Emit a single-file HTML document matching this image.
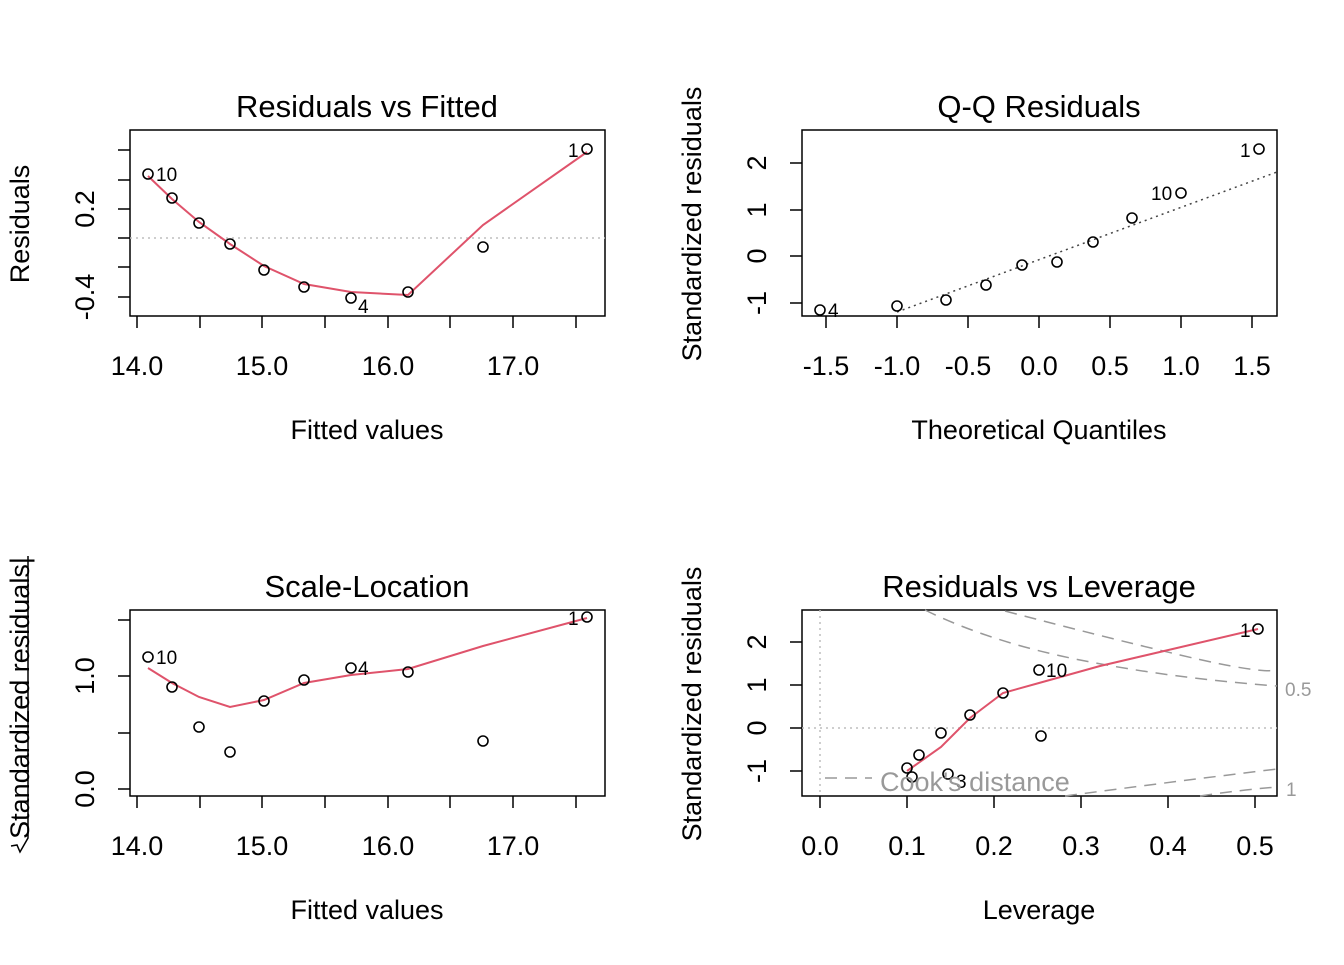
<!DOCTYPE html>
<html><head><meta charset="utf-8"><style>
html,body{margin:0;padding:0;background:#fff}
svg text{font-family:"Liberation Sans",Arial,sans-serif}
</style></head><body>
<svg width="1344" height="960" viewBox="0 0 1344 960" xmlns="http://www.w3.org/2000/svg">
<g fill="none" stroke="#000" stroke-width="1.5">
<rect x="130" y="130" width="475" height="186"/>
<path d="M137 316v12M200 316v12M262 316v12M325 316v12M388 316v12M450 316v12M513 316v12M576 316v12"/>
<path d="M118 150h12M118 180h12M118 209h12M118 238h12M118 267h12M118 297h12"/>
<rect x="802" y="130" width="475" height="186"/>
<path d="M826 316v12M897 316v12M968 316v12M1039 316v12M1110 316v12M1181 316v12M1252 316v12"/>
<path d="M790 163h12M790 210h12M790 256h12M790 303h12"/>
<rect x="130" y="610" width="475" height="186"/>
<path d="M137 796v12M200 796v12M262 796v12M325 796v12M388 796v12M450 796v12M513 796v12M576 796v12"/>
<path d="M118 620h12M118 676h12M118 733h12M118 789h12"/>
<rect x="802" y="610" width="475" height="186"/>
<path d="M820 796v12M907 796v12M994 796v12M1081 796v12M1168 796v12M1255 796v12"/>
<path d="M790 642h12M790 685h12M790 728h12M790 771h12"/>
</g>
<g stroke="#bebebe" stroke-width="1.5" stroke-dasharray="2,4" fill="none">
<path d="M130 238H605"/>
<path d="M802 728H1277M820 610V796"/>
</g>
<path d="M897 312L1277 172" stroke="#444" stroke-width="1.5" stroke-dasharray="2,4" fill="none"/>
<g stroke="#999" stroke-width="1.5" stroke-dasharray="12,8" fill="none">
<path d="M925 610 Q990 642 1080 660 T1277 686"/>
<path d="M1005 611 Q1100 636 1180 655 T1277 670"/>
<path d="M1065 796 Q1170 782 1277 769"/>
<path d="M1200 796 Q1240 790 1277 787"/>
<path d="M825 778H872"/>
</g>
<g stroke="#df536b" stroke-width="2" fill="none">
<polyline points="148,176 172,199 199,222 230,244 264,266 304,284 351,292 408,295 483,225 587,152"/>
<polyline points="148,668 172,683 199,697 230,707 264,700 304,683 351,675 408,669 483,646 587,618"/>
<polyline points="907,771 941,747 970,718 1003,693 1039,683 1100,666 1258,629"/>
</g>
<g fill="none" stroke="#000" stroke-width="1.6">
<circle cx="148" cy="174" r="5"/><circle cx="172" cy="198" r="5"/><circle cx="199" cy="223" r="5"/><circle cx="230" cy="244" r="5"/><circle cx="264" cy="270" r="5"/><circle cx="304" cy="287" r="5"/><circle cx="351" cy="298" r="5"/><circle cx="408" cy="292" r="5"/><circle cx="483" cy="247" r="5"/><circle cx="587" cy="149" r="5"/>
<circle cx="820" cy="310" r="5"/><circle cx="897" cy="306" r="5"/><circle cx="946" cy="300" r="5"/><circle cx="986" cy="285" r="5"/><circle cx="1022" cy="265" r="5"/><circle cx="1057" cy="262" r="5"/><circle cx="1093" cy="242" r="5"/><circle cx="1132" cy="218" r="5"/><circle cx="1181" cy="193" r="5"/><circle cx="1259" cy="149" r="5"/>
<circle cx="148" cy="657" r="5"/><circle cx="172" cy="687" r="5"/><circle cx="199" cy="727" r="5"/><circle cx="230" cy="752" r="5"/><circle cx="264" cy="701" r="5"/><circle cx="304" cy="680" r="5"/><circle cx="351" cy="668" r="5"/><circle cx="408" cy="672" r="5"/><circle cx="483" cy="741" r="5"/><circle cx="587" cy="617" r="5"/>
<circle cx="907" cy="768" r="5"/><circle cx="912" cy="777" r="5"/><circle cx="919" cy="755" r="5"/><circle cx="941" cy="733" r="5"/><circle cx="948" cy="774" r="5"/><circle cx="970" cy="715" r="5"/><circle cx="1003" cy="693" r="5"/><circle cx="1039" cy="670" r="5"/><circle cx="1041" cy="736" r="5"/><circle cx="1258" cy="629" r="5"/>
</g>
<g font-size="19" fill="#000">
<text x="156" y="181">10</text><text x="358" y="313">4</text><text x="568" y="157">1</text>
<text x="828" y="317">4</text><text x="1151" y="200">10</text><text x="1240" y="157">1</text>
<text x="156" y="664">10</text><text x="358" y="675">4</text><text x="568" y="625">1</text>
<text x="1046" y="677">10</text><text x="956" y="788">3</text><text x="1240" y="637">1</text>
</g>
<text x="880" y="791" font-size="27" fill="#999">Cook's distance</text>
<text x="1285" y="696" font-size="19" fill="#999">0.5</text>
<text x="1286" y="796" font-size="19" fill="#999">1</text>
<g font-size="31" text-anchor="middle" fill="#000">
<text x="367" y="117">Residuals vs Fitted</text>
<text x="1039" y="117">Q-Q Residuals</text>
<text x="367" y="597">Scale-Location</text>
<text x="1039" y="597">Residuals vs Leverage</text>
</g>
<g font-size="27" text-anchor="middle" fill="#000">
<text x="137" y="375">14.0</text><text x="262" y="375">15.0</text><text x="388" y="375">16.0</text><text x="513" y="375">17.0</text>
<text x="826" y="375">-1.5</text><text x="897" y="375">-1.0</text><text x="968" y="375">-0.5</text><text x="1039" y="375">0.0</text><text x="1110" y="375">0.5</text><text x="1181" y="375">1.0</text><text x="1252" y="375">1.5</text>
<text x="137" y="855">14.0</text><text x="262" y="855">15.0</text><text x="388" y="855">16.0</text><text x="513" y="855">17.0</text>
<text x="820" y="855">0.0</text><text x="907" y="855">0.1</text><text x="994" y="855">0.2</text><text x="1081" y="855">0.3</text><text x="1168" y="855">0.4</text><text x="1255" y="855">0.5</text>
<text x="367" y="439">Fitted values</text>
<text x="1039" y="439">Theoretical Quantiles</text>
<text x="367" y="919">Fitted values</text>
<text x="1039" y="919">Leverage</text>
<text transform="translate(94,297) rotate(-90)">-0.4</text>
<text transform="translate(94,209) rotate(-90)">0.2</text>
<text transform="translate(766,163) rotate(-90)">2</text>
<text transform="translate(766,210) rotate(-90)">1</text>
<text transform="translate(766,256) rotate(-90)">0</text>
<text transform="translate(766,303) rotate(-90)">-1</text>
<text transform="translate(94,789) rotate(-90)">0.0</text>
<text transform="translate(94,676) rotate(-90)">1.0</text>
<text transform="translate(766,642) rotate(-90)">2</text>
<text transform="translate(766,685) rotate(-90)">1</text>
<text transform="translate(766,728) rotate(-90)">0</text>
<text transform="translate(766,771) rotate(-90)">-1</text>
<text transform="translate(29,224) rotate(-90)">Residuals</text>
<text transform="translate(701,224) rotate(-90)">Standardized residuals</text>
<text transform="translate(29,698) rotate(-90)">Standardized residuals|</text>
<text transform="translate(701,704) rotate(-90)">Standardized residuals</text>
</g>
<path d="M28 556V838L20 852L17 845L11 846" fill="none" stroke="#000" stroke-width="1.5"/>
</svg>
</body></html>
